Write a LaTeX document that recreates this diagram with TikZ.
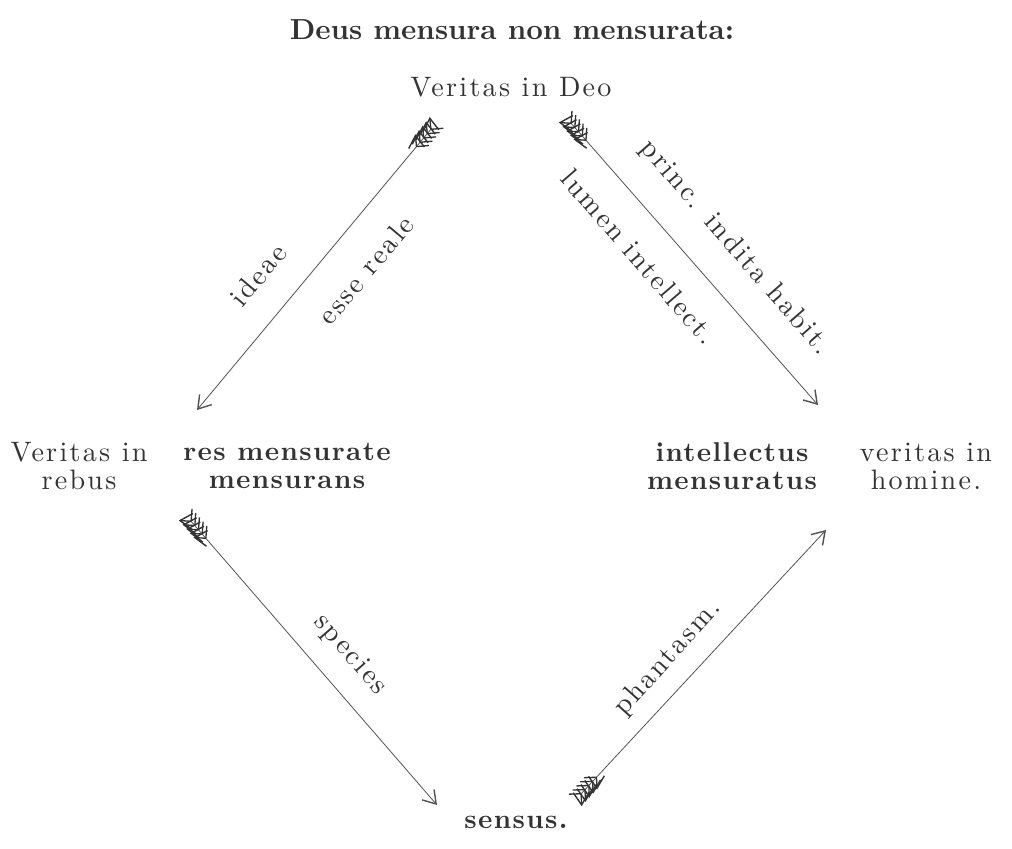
\documentclass[tikz,border=0pt]{standalone}
\usepackage{fontspec}
\setmainfont{lmroman10}[Extension=.otf, UprightFont=*-regular, BoldFont=*-bold,
  ItalicFont=*-italic, BoldItalicFont=*-bolditalic]
\usetikzlibrary{arrows.meta,decorations.markings}
\definecolor{ink}{HTML}{333333}

\begin{document}
\begin{tikzpicture}[x=0.02cm,y=-0.02cm,
    every node/.style={text=ink, font=\fontsize{16}{16}\selectfont\addfontfeatures{LetterSpace=8}},
    term/.style={font=\fontsize{15.5}{16}\selectfont\bfseries\addfontfeatures{LetterSpace=5}, align=center},
    gloss/.style={align=center},
    pointer/.style={draw=ink!85, line width=0.45pt,
      -{Straight Barb[length=7pt,width=9pt,line width=0.8pt]},
      decoration={markings, mark=at position 0 with {
        \foreach \i in {0,...,4}
          \draw[ink,line width=0.75pt] (\i*3.2pt+1pt,0pt) -- ++(-5pt,5pt)
                                       (\i*3.2pt+1pt,0pt) -- ++(-5pt,-5pt);}},
      postaction=decorate}]
  \useasboundingbox (0,0) rectangle (1012,849);
  % heading and the four stations
  \node[font=\fontsize{16.5}{18}\selectfont\bfseries] (title) at (512,30) {Deus mensura non mensurata:};
  \node (deo) at (511,87) {Veritas in Deo};
  \node[gloss] (rebus) at (79,466) {Veritas in\\rebus};
  \node[term] (res) at (287,466) {res mensurate\\mensurans};
  \node[term] (intell) at (732,466) {intellectus\\mensuratus};
  \node[gloss] (homine) at (926,466) {veritas in\\homine.};
  \node[term] (sensus) at (516,822) {sensus.};
  % ends of the arrows
  \coordinate (deo-l) at (432,128);
  \coordinate (res-in) at (197,410);
  \coordinate (deo-r) at (570,122);
  \coordinate (int-in) at (818,405);
  \coordinate (res-out) at (190,520);
  \coordinate (sens-in) at (437,805);
  \coordinate (sens-out) at (580,795);
  \coordinate (int-up) at (826,530);
  \draw[pointer] (deo-l) -- (res-in);
  \draw[pointer] (deo-r) -- (int-in);
  \draw[pointer] (res-out) -- (sens-in);
  \draw[pointer] (sens-out) -- (int-up);
  % labels along the arrows
  \node[rotate=50] (ideae) at (258,275) {ideae};
  \node[rotate=50] (esse) at (366,270) {esse reale};
  \node[rotate=-49] (princ) at (735,248) {princ. indita habit.};
  \node[rotate=-49] (lumen) at (639,257) {lumen intellect.};
  \node[rotate=-49] (species) at (350,655) {species};
  \node[rotate=48] (phantasm) at (668,658) {phantasm.};
\end{tikzpicture}
\end{document}
